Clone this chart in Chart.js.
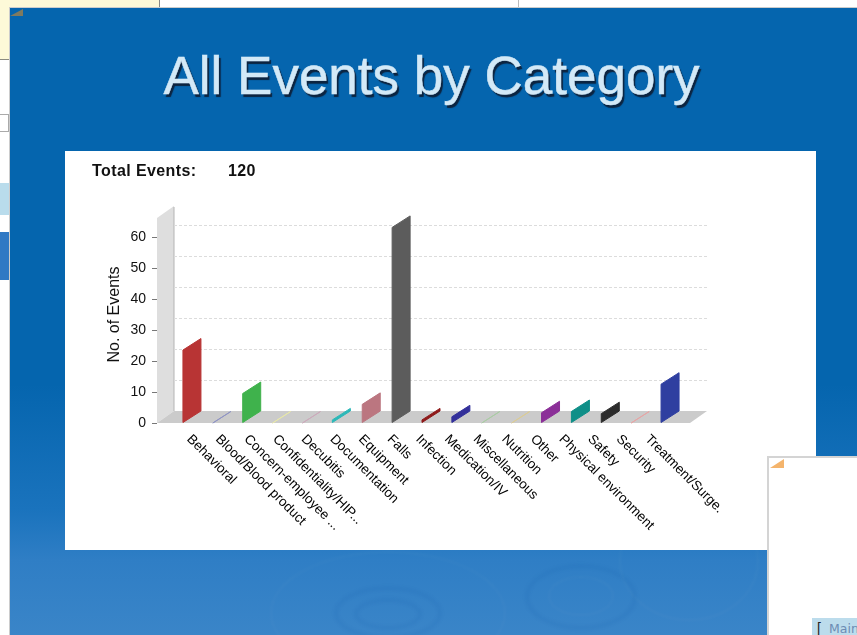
<!DOCTYPE html>
<html>
<head>
<meta charset="utf-8">
<title>All Events by Category</title>
<script src="https://cdn.jsdelivr.net/npm/chart.js@4"></script>
<style>
html, body { margin: 0; padding: 0; background: #fff; overflow: hidden; }
body { width: 857px; height: 635px; position: relative; font-family: "Liberation Sans", Arial, sans-serif; }
div { position: absolute; }
#note { left: 0; top: 0; width: 160px; height: 60px; background: #fdf9d8; border-bottom: 1px solid #8a8a80; box-sizing: border-box; border-right: 1px solid #888; }
#lineTop { left: 518px; top: 0; width: 1px; height: 7px; background: #bbb; }
#sideA { left: 0; top: 183px; width: 9px; height: 32px; background: #b9dcec; }
#sideB { left: 0; top: 232px; width: 9px; height: 48px; background: #3079c4; }
#sideC { left: 0; top: 114px; width: 9px; height: 18px; border: 1px solid #aaa; border-left: 0; box-sizing: border-box; }
#slide { left: 9px; top: 7px; width: 848px; height: 628px; overflow: hidden; box-sizing: border-box; border-left: 1px solid #ccc; border-top: 1px solid #ccc;
	background: linear-gradient(180deg, #0565ae 0%, #0565ae 60%, #1a73bd 80%, #2f7ec5 88%, #3a85c8 100%); }
.ripple { border-radius: 50%; border: 4px solid rgba(0,70,150,0.07); box-sizing: border-box; filter: blur(1.5px); }
.ripple.pale { border-width: 2px; border-color: rgba(255,255,255,0.03); }
#tab { left: 0; top: 1px; width: 13px; height: 7px; background: #7f7a60; clip-path: polygon(0 100%, 100% 0, 100% 100%); }
#heading { left: -2px; top: 39px; width: 100%; font-size: 53px; line-height: 58px; color: #d3e9f7; text-align: center;
	-webkit-text-stroke: 0.5px #d3e9f7; text-shadow: 2px 3px 1px #0c2440; white-space: nowrap; }
#panel { left: 65px; top: 151px; width: 751px; height: 399px; background: #fff; }
#total, #count { top: 12px; font-weight: bold; font-size: 16px; line-height: 16px; letter-spacing: 0.4px; color: #111; }
#total { left: 27px; }
#count { left: 163px; }
#popup { left: 767px; top: 456px; width: 90px; height: 179px; background: #fff; border: 2px solid #d4d4d4; border-right: 0; border-bottom: 0; box-sizing: border-box; }
#popTab { left: 1px; top: 1px; width: 14px; height: 9px; background: #f4b46c; clip-path: polygon(0 100%, 100% 0, 100% 100%); }
#main { left: 43px; top: 160px; width: 50px; height: 19px; background: #bcdcec; overflow: hidden; }
#bracket { left: 5px; top: 2px; font-size: 14px; line-height: 17px; color: #222; }
#mainText { left: 17px; top: 1px; font-family: "DejaVu Sans", sans-serif; font-size: 12.5px; line-height: 19px; color: #6c8cb4; }
</style>
</head>
<body>
<div id="note"></div>
<div id="lineTop"></div>
<div id="sideC"></div>
<div id="sideA"></div>
<div id="sideB"></div>
<div id="slide">
	<div class="ripple pale" style="left:260px;top:543px;width:236px;height:124px"></div>
	<div class="ripple" style="left:324px;top:578px;width:108px;height:54px"></div>
	<div class="ripple" style="left:344px;top:590px;width:68px;height:32px"></div>
	<div class="ripple" style="left:515px;top:556px;width:112px;height:66px"></div>
	<div class="ripple pale" style="left:538px;top:568px;width:66px;height:40px"></div>
	<div class="ripple pale" style="left:609px;top:493px;width:140px;height:120px"></div>
	<div id="tab"></div>
	<div id="heading">All Events by Category</div>
</div>
<div id="panel">
	<canvas id="eventsChart" width="751" height="399"></canvas>
	<div id="total">Total Events:</div>
	<div id="count">120</div>
</div>
<div id="popup">
	<div id="popTab"></div>
	<div id="main"><div id="bracket">[</div><div id="mainText">Main</div></div>
</div>

<script>
var categories = ['Behavioral', 'Blood/Blood product', 'Concern-employee ...', 'Confidentiality/HIP...',
	'Decubitis', 'Documentation', 'Equipment', 'Falls', 'Infection', 'Medication/IV', 'Miscellaneous',
	'Nutrition', 'Other', 'Physical environment', 'Safety', 'Security', 'Treatment/Surge.'];
var eventCounts = [23.5, 0, 9.5, 0, 0, 1, 6, 63, 1, 2, 0, 0, 3.3, 3.7, 3, 0, 12.5];
var barColors = ['#b83434', '#8f94c4', '#3fb24c', '#e8e8a8', '#cbaabb', '#2cb8b8', '#bb7680', '#5c5c5c',
	'#8e1a1a', '#33309a', '#aacba4', '#dccb94', '#8b2f98', '#0f8f88', '#2c2c2c', '#e8a4a4', '#2f3fa0'];
var yTickValues = [0, 10, 20, 30, 40, 50, 60];

// depth of the fake 3d floor and walls
var depthX = 17;
var depthY = 12;
// the labels sit a little tighter than the bars in the original
var labelStep = 1.25;

// bars are flat slabs running back into the chart
Chart.BarElement.prototype.draw = function (ctx) {
	ctx.save();
	ctx.fillStyle = this.options.backgroundColor;
	ctx.strokeStyle = this.options.backgroundColor;
	ctx.lineWidth = 1;
	ctx.beginPath();
	ctx.moveTo(this.x, this.base);
	ctx.lineTo(this.x, this.y);
	ctx.lineTo(this.x + depthX + 1, this.y - depthY + 0.5);
	ctx.lineTo(this.x + depthX + 1, this.base - depthY + 0.5);
	ctx.closePath();
	ctx.fill();
	ctx.stroke();
	ctx.restore();
};

var wallPlugin = {
	id: 'wall',
	beforeDatasetsDraw: function (chart) {
		var ctx = chart.ctx;
		var area = chart.chartArea;
		var y = chart.scales.y;
		var left = area.left - 11;
		var right = area.right + 14;
		var zero = y.getPixelForValue(0);
		ctx.save();
		// side wall
		ctx.fillStyle = '#dedede';
		ctx.beginPath();
		ctx.moveTo(left, zero);
		ctx.lineTo(left, area.top + depthY);
		ctx.lineTo(left + depthX, area.top);
		ctx.lineTo(left + depthX, zero - depthY);
		ctx.closePath();
		ctx.fill();
		// floor
		ctx.fillStyle = '#cbcbcb';
		ctx.beginPath();
		ctx.moveTo(left, zero);
		ctx.lineTo(left + depthX, zero - depthY);
		ctx.lineTo(right + depthX, zero - depthY);
		ctx.lineTo(right, zero);
		ctx.closePath();
		ctx.fill();
		ctx.strokeStyle = '#b4b4b4';
		ctx.beginPath();
		ctx.moveTo(left + depthX, area.top + 1);
		ctx.lineTo(left + depthX, zero - depthY);
		ctx.stroke();
		// dashed grid on the back wall, tick marks on the front edge
		yTickValues.forEach(function (v) {
			var py = Math.round(y.getPixelForValue(v)) + 0.5;
			ctx.setLineDash([]);
			ctx.strokeStyle = '#777';
			ctx.beginPath();
			ctx.moveTo(left - 5, py);
			ctx.lineTo(left, py);
			ctx.stroke();
			if (v > 0) {
				ctx.strokeStyle = '#dcdcdc';
				ctx.setLineDash([3, 2]);
				ctx.beginPath();
				ctx.moveTo(left + depthX, py - depthY);
				ctx.lineTo(right + depthX, py - depthY);
				ctx.stroke();
			}
		});
		ctx.restore();
	},
	afterDraw: function (chart) {
		// labels run downhill to the right, which the category axis can't do itself
		var ctx = chart.ctx;
		var x = chart.scales.x;
		var bottom = chart.scales.y.getPixelForValue(0);
		ctx.save();
		ctx.fillStyle = '#000';
		ctx.font = '13.5px "Liberation Sans"';
		ctx.textAlign = 'left';
		ctx.textBaseline = 'middle';
		categories.forEach(function (name, i) {
			ctx.save();
			ctx.translate(x.getPixelForValue(i) + 6 - i * labelStep, bottom + 14);
			ctx.rotate(Math.PI / 4);
			ctx.fillText(name, 0, 0);
			ctx.restore();
		});
		ctx.restore();
	}
};

var eventsChart = new Chart(document.getElementById('eventsChart'), {
	type: 'bar',
	data: {
		labels: categories,
		datasets: [{
			label: 'No. of Events',
			data: eventCounts,
			backgroundColor: barColors,
			clip: false
		}]
	},
	options: {
		responsive: false,
		animation: false,
		layout: { padding: { left: 40, right: 140, top: 55, bottom: 127 } },
		plugins: { legend: { display: false }, tooltip: { enabled: false } },
		scales: {
			x: {
				grid: { display: false },
				border: { display: false },
				ticks: { display: false },
				afterFit: function (scale) { scale.height = 0; }
			},
			y: {
				min: 0,
				max: 69.9,
				afterFit: function (scale) { scale.width = 63; },
				afterBuildTicks: function (scale) {
					scale.ticks = yTickValues.map(function (v) { return { value: v }; });
				},
				title: {
					display: true,
					text: 'No. of Events',
					color: '#111',
					padding: 0,
					font: { family: '"Liberation Sans"', size: 16 }
				},
				border: { display: false },
				grid: {
					drawOnChartArea: false,
					drawTicks: false
				},
				ticks: {
					color: '#111',
					padding: 22,
					font: { family: '"Liberation Sans"', size: 14 }
				}
			}
		}
	},
	plugins: [wallPlugin]
});
</script>
</body>
</html>
